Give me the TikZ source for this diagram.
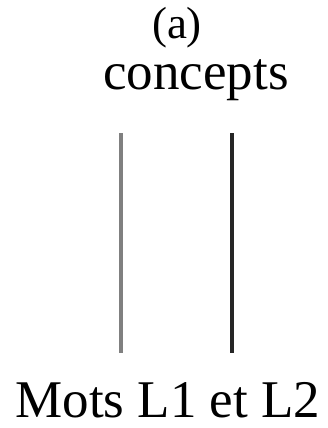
\documentclass[tikz,border=0pt]{standalone}
\usepackage{fontspec}
\setmainfont{Liberation Serif}
\usetikzlibrary{positioning}

\begin{document}
\begin{tikzpicture}[x=1pt,y=-1pt,
  lbl/.style={inner sep=0pt,anchor=base,font=\fontsize{53}{58}\selectfont},
  link/.style={line width=4.5pt}]
\useasboundingbox (0,0) rectangle (328,428);
\node[lbl,font=\fontsize{45}{50}\selectfont] (tag) at (177,38) {(a)};
\node[lbl] (concepts) at (196,89) {concepts};
\node[lbl] (mots) at (168,417) {Mots L1 et L2};
\coordinate (lt) at (121,133);
\coordinate (lb) at (121,353);
\coordinate (rt) at (232,133);
\coordinate (rb) at (232,353);
\draw[link,gray] (lt)--(lb);
\draw[link,line width=3.5pt,black!85] (rt)--(rb);
\end{tikzpicture}
\end{document}
